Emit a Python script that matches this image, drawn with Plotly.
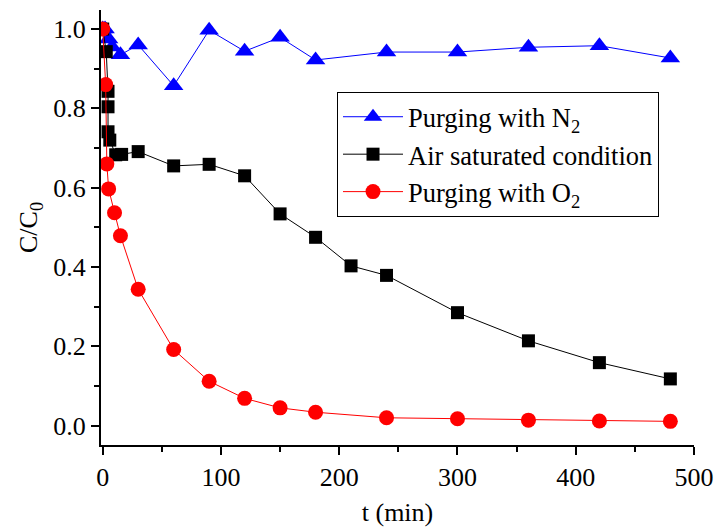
import plotly.graph_objects as go

# Purging with N2
t_n2 = [0, 2, 5, 8, 15, 30, 60, 90, 120, 150, 180, 240, 300, 360, 420, 480]
c_n2 = [1.0, 1.0, 0.975, 0.955, 0.935, 0.96, 0.857, 0.997, 0.944, 0.979, 0.922, 0.942, 0.942, 0.954, 0.958, 0.927]

# Air saturated condition
t_air = [0, 3, 4.5, 4.5, 4.5, 6, 11, 16, 30, 60, 90, 120, 150, 180, 210, 240, 300, 360, 420, 480]
c_air = [1.0, 0.943, 0.843, 0.804, 0.741, 0.72, 0.683, 0.684, 0.691, 0.655, 0.659, 0.63, 0.534, 0.475, 0.403, 0.379, 0.285, 0.214, 0.159, 0.118]

# Purging with O2
t_o2 = [0, 2.5, 3.5, 5, 10, 15, 30, 60, 90, 120, 150, 180, 240, 300, 360, 420, 480]
c_o2 = [1.0, 0.86, 0.66, 0.597, 0.537, 0.479, 0.344, 0.192, 0.112, 0.069, 0.045, 0.034, 0.02, 0.0176, 0.014, 0.012, 0.011]

FONT = "Liberation Serif, Times New Roman, serif"
FS = 26

fig = go.Figure()
fig.add_trace(go.Scatter(
    x=t_n2, y=c_n2, mode="lines+markers", name="Purging with N<sub>2</sub>",
    line=dict(color="#0000ff", width=1),
    marker=dict(symbol="triangle-up", size=17, color="#0000ff"),
    legendgroup="a"))
fig.add_trace(go.Scatter(
    x=t_air, y=c_air, mode="lines+markers", name="Air saturated condition",
    line=dict(color="#000000", width=1),
    marker=dict(symbol="square", size=13, color="#000000"),
    legendgroup="b"))
fig.add_trace(go.Scatter(
    x=t_o2, y=c_o2, mode="lines+markers", name="Purging with O<sub>2</sub>",
    line=dict(color="#ff0000", width=1),
    marker=dict(symbol="circle", size=15, color="#ff0000"),
    legendgroup="c"))

fig.update_layout(
    width=717, height=529,
    margin=dict(l=101, r=23, t=10, b=84),
    paper_bgcolor="white", plot_bgcolor="white",
    font=dict(family=FONT, size=FS, color="black"),
    legend=dict(x=0.398, y=0.8115, xanchor="left", yanchor="top",
                bordercolor="black", borderwidth=1, bgcolor="white",
                font=dict(family=FONT, size=26.5), tracegroupgap=0,
                itemwidth=60),
    xaxis=dict(range=[-1.44, 500], showline=True, linecolor="black", linewidth=2,
               ticks="outside", ticklen=8, tickwidth=1.5, tickcolor="black",
               dtick=100, tick0=0, showgrid=False, zeroline=False, automargin=False,
               minor=dict(ticks="outside", ticklen=5, tickwidth=1.5, dtick=50, tickcolor="black"),
               title=dict(text="t (min)", font=dict(family=FONT, size=FS), standoff=12),
               tickfont=dict(family=FONT, size=FS)),
    yaxis=dict(range=[-0.0486, 1.048], showline=True, linecolor="black", linewidth=2,
               ticks="outside", ticklen=8, tickwidth=1.5, tickcolor="black",
               dtick=0.2, tick0=0, tickformat=".1f", showgrid=False, zeroline=False,
               automargin=False,
               minor=dict(ticks="outside", ticklen=5, tickwidth=1.5, dtick=0.1, tickcolor="black"),
               title=dict(text="C/C<sub>0</sub>", font=dict(family=FONT, size=FS), standoff=8),
               tickfont=dict(family=FONT, size=FS)),
)

fig.write_html("out.html", config={"displayModeBar": False},
               post_script="document.body.style.margin='0';document.body.style.overflow='hidden';")
